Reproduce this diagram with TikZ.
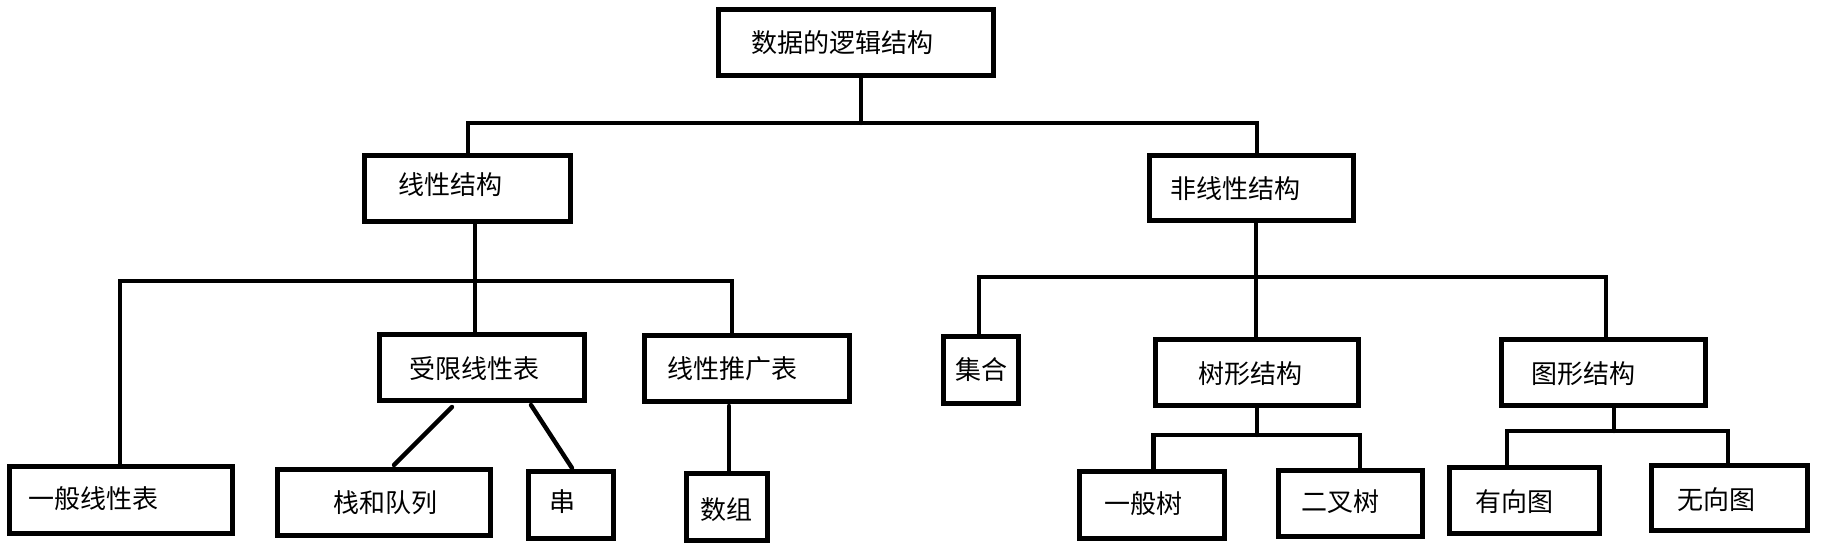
\documentclass[tikz,border=0pt]{standalone}
\usepackage{fontspec}
\setmainfont{Noto Sans CJK SC}
\begin{document}
\begin{tikzpicture}[x=1pt,y=-1pt,
  box/.style={draw=black,line width=5pt,fill=white,rectangle,inner sep=0pt,outer sep=0pt},
  txt/.style={inner sep=0pt,font=\fontsize{26}{30}\selectfont,text height=0.84em,text depth=0.1em,yshift=-3pt},
  conn/.style={draw=black,line width=4.4pt,line cap=round,line join=miter}]
\fill[white] (0,0) rectangle (1842,553);
\useasboundingbox (0,0) rectangle (1842,553);
% boxes
\node[box,minimum width=275pt,minimum height=66pt] (top) at (856,42.5) {};
\node[txt] (topt) at (842,46) {数据的逻辑结构};
\node[box,minimum width=206pt,minimum height=66pt] (lin) at (467.5,188.5) {};
\node[txt] (lint) at (450,188) {线性结构};
\node[box,minimum width=204pt,minimum height=65pt] (nlin) at (1251.5,188) {};
\node[txt] (nlint) at (1235,192) {非线性结构};
\node[box,minimum width=205pt,minimum height=66pt] (rest) at (482,367.5) {};
\node[txt] (restt) at (474,372) {受限线性表};
\node[box,minimum width=205pt,minimum height=66pt] (gen) at (747,368.5) {};
\node[txt] (gent) at (732,372) {线性推广表};
\node[box,minimum width=223pt,minimum height=67pt] (glist) at (121,500) {};
\node[txt] (glistt) at (93.5,502) {一般线性表};
\node[box,minimum width=213.5pt,minimum height=66pt] (stack) at (383.75,502.5) {};
\node[txt] (stackt) at (385,506) {栈和队列};
\node[box,minimum width=85pt,minimum height=67pt] (str) at (571,505) {};
\node[txt] (strt) at (562,505) {串};
\node[box,minimum width=81.5pt,minimum height=67pt] (arr) at (727,507) {};
\node[txt] (arrt) at (726,513) {数组};
\node[box,minimum width=75.5pt,minimum height=67pt] (set) at (981,370) {};
\node[txt] (sett) at (981.5,373) {集合};
\node[box,minimum width=203pt,minimum height=66pt] (tree) at (1257,372.5) {};
\node[txt] (treet) at (1250,377) {树形结构};
\node[box,minimum width=204pt,minimum height=66pt] (graph) at (1603.5,372.5) {};
\node[txt] (grapht) at (1583.5,377) {图形结构};
\node[box,minimum width=145pt,minimum height=67pt] (gtree) at (1152,505) {};
\node[txt] (gtreet) at (1143.5,507) {一般树};
\node[box,minimum width=144pt,minimum height=66pt] (btree) at (1350,503.5) {};
\node[txt] (btreet) at (1340,505) {二叉树};
\node[box,minimum width=150pt,minimum height=66pt] (dg) at (1524.5,500.5) {};
\node[txt] (dgt) at (1514.5,505) {有向图};
\node[box,minimum width=156pt,minimum height=65pt] (ug) at (1729.5,498) {};
\node[txt] (ugt) at (1716.5,503) {无向图};
% junction coordinates
\coordinate (j0) at (861,123);
\coordinate (jL) at (468,123);
\coordinate (jR) at (1257,123);
\coordinate (k0) at (475,281);
\coordinate (kL) at (120,281);
\coordinate (kR) at (732,281);
\coordinate (m0) at (1256,277);
\coordinate (mL) at (979,277);
\coordinate (mR) at (1606,277);
\coordinate (t0) at (1257,435);
\coordinate (tL) at (1153.5,435);
\coordinate (tR) at (1360,435);
\coordinate (g0) at (1614,431);
\coordinate (gL) at (1507,431);
\coordinate (gR) at (1728,431);
\coordinate (d1a) at (452,407);
\coordinate (d1b) at (394,465);
\coordinate (d2a) at (531,405);
\coordinate (d2b) at (572,468);
\coordinate (a0) at (729,406);
% connectors
\draw[conn] (top.south -| j0) -- (j0);
\draw[conn] (lin.north -| jL) -- (jL) -- (jR) -- (nlin.north -| jR);
\draw[conn] (lin.south -| k0) -- (rest.north -| k0);
\draw[conn] (glist.north -| kL) -- (kL) -- (kR) -- (gen.north -| kR);
\draw[conn] (d1a) -- (d1b);
\draw[conn] (d2a) -- (d2b);
\draw[conn] (a0) -- (arr.north -| a0);
\draw[conn] (nlin.south -| m0) -- (tree.north -| m0);
\draw[conn] (set.north -| mL) -- (mL) -- (mR) -- (graph.north -| mR);
\draw[conn] (tree.south -| t0) -- (t0);
\draw[conn] (gtree.north -| tL) -- (tL) -- (tR) -- (btree.north -| tR);
\draw[conn] (graph.south -| g0) -- (g0);
\draw[conn] (dg.north -| gL) -- (gL) -- (gR) -- (ug.north -| gR);
\end{tikzpicture}
\end{document}
